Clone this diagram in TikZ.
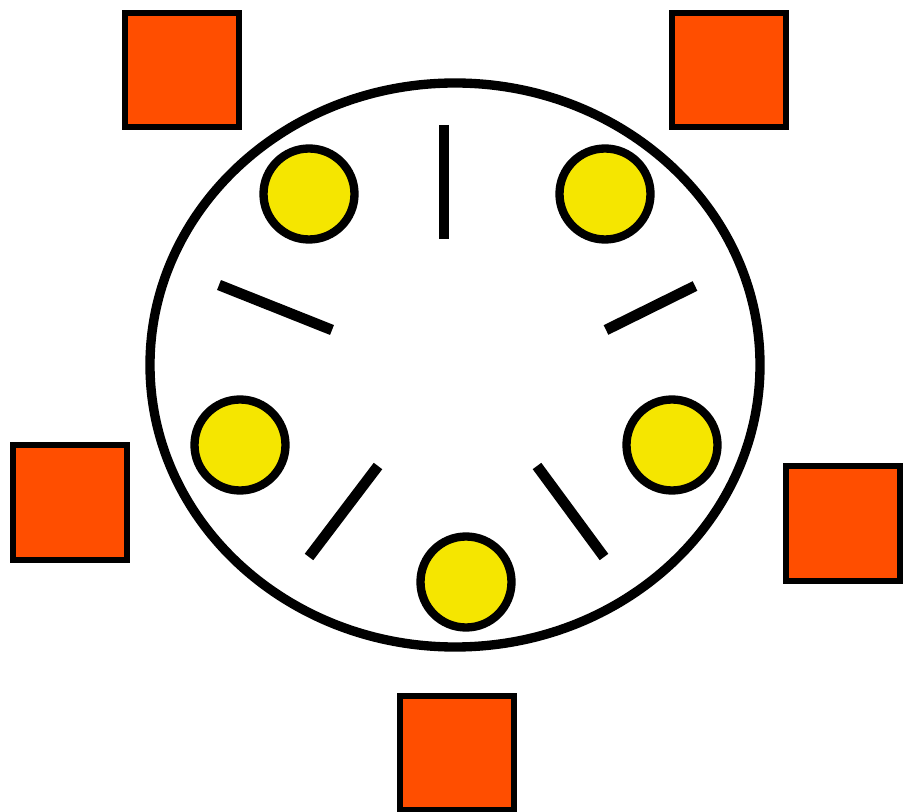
\documentclass[tikz,border=0pt]{standalone}
\usepackage{tikz}
\definecolor{squareorange}{HTML}{FF4E00}
\definecolor{dotyellow}{HTML}{F5E600}

\begin{document}
\begin{tikzpicture}[
    x=0.75pt,y=-0.75pt,
    table/.style={draw,line width=7pt,inner sep=0pt},
    seat/.style={draw,line width=4.5pt,fill=squareorange,minimum size=85.5pt,inner sep=0pt},
    plate/.style={circle,draw,line width=6.25pt,fill=dotyellow,minimum size=68.25pt,inner sep=0pt},
    bar/.style={line width=8pt}
  ]
    \useasboundingbox (0,0) rectangle (903,812);
    \draw[table] (455,365) ellipse [x radius=305,y radius=282];

    \node[seat] (seatA) at (181.5,70.5) {};
    \node[seat] (seatB) at (728.5,70.5) {};
    \node[seat] (seatC) at (70,502.5) {};
    \node[seat] (seatD) at (843,523.5) {};
    \node[seat] (seatE) at (457,752.5) {};

    \node[plate] (plateA) at (309,194) {};
    \node[plate] (plateB) at (605,194) {};
    \node[plate] (plateC) at (240,445) {};
    \node[plate] (plateD) at (672,445) {};
    \node[plate] (plateE) at (466,582) {};

    \draw[bar] (444,125) -- (444,239);
    \draw[bar] (219,285) -- (332,330);
    \draw[bar] (606,330) -- (695,286);
    \draw[bar] (309,557) -- (378,466);
    \draw[bar] (537,466) -- (604,557);
  \end{tikzpicture}
\end{document}
